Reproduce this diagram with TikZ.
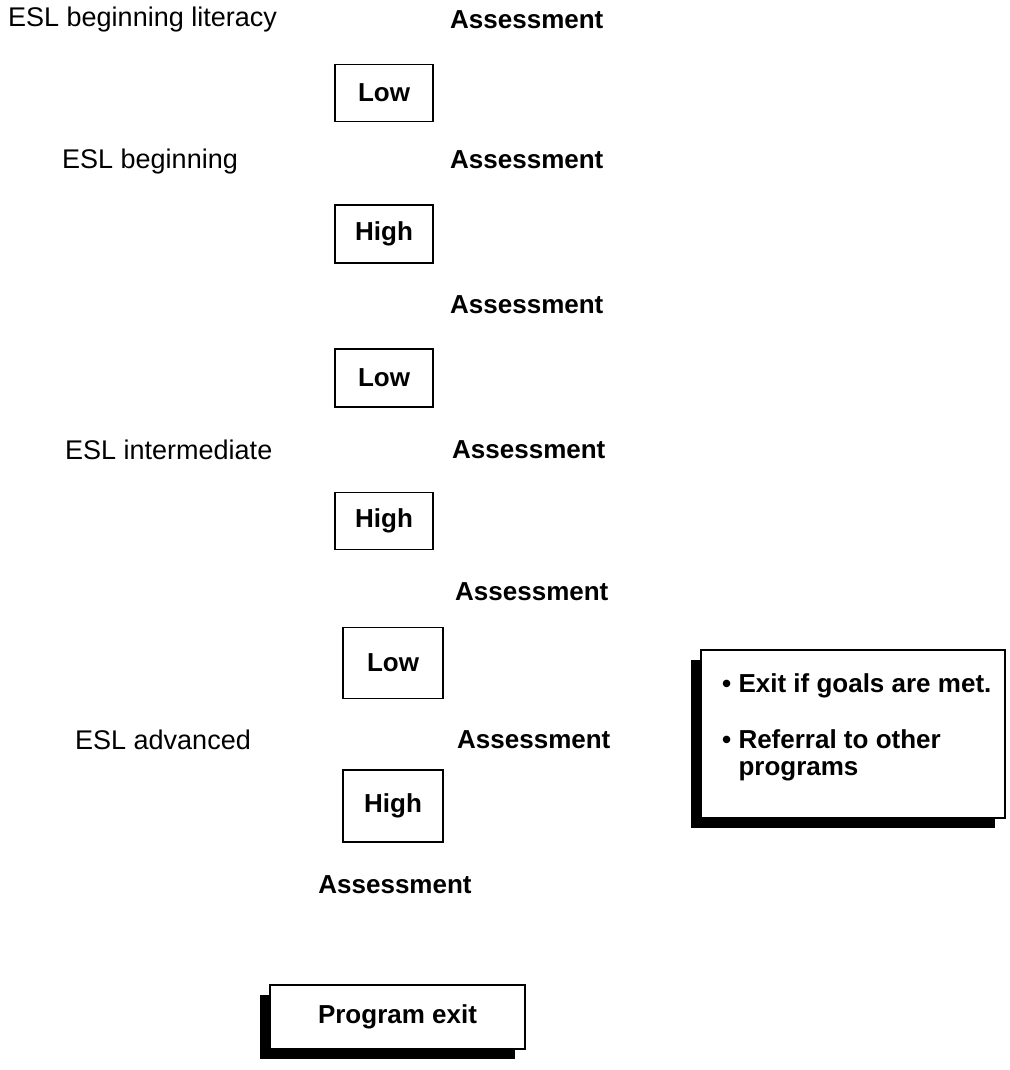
\documentclass[tikz,border=0pt]{standalone}
\usepackage{fontspec}
\setmainfont{Liberation Sans}
\usetikzlibrary{shadows}
\begin{document}
\begin{tikzpicture}[x=1pt,y=-1pt,
  txt/.style={font=\fontsize{27}{30}\selectfont, anchor=west, inner sep=0pt},
  asm/.style={font=\fontsize{26}{28}\selectfont\bfseries, anchor=west, inner sep=0pt},
  lvl/.style={draw, line width=1.8pt, inner sep=0pt, font=\fontsize{26}{28}\selectfont\bfseries},
  shbox/.style={draw, fill=white, line width=1.8pt, inner sep=0pt, font=\fontsize{26}{28}\selectfont\bfseries,
    drop shadow={shadow xshift=-10pt, shadow yshift=-10pt, fill=black, opacity=1}},
  goaltxt/.style={font=\fontsize{26}{27}\selectfont\bfseries, align=left, inner sep=0pt},
]
\useasboundingbox (0,0) rectangle (1009,1070);

% left titles
\node[txt] (t1) at (8,20) {ESL beginning literacy};
\node[txt] (t2) at (62,162) {ESL beginning};
\node[txt] (t3) at (65,450) {ESL intermediate};
\node[txt] (t4) at (75,740) {ESL advanced};

% assessments
\node[asm] (a1) at (450,20) {Assessment};
\node[asm] (a2) at (450,160) {Assessment};
\node[asm] (a3) at (450,305) {Assessment};
\node[asm] (a4) at (452,450) {Assessment};
\node[asm] (a5) at (455,592) {Assessment};
\node[asm] (a6) at (457,740) {Assessment};
\node[asm, anchor=center] (a7) at (395,885) {Assessment};

% level boxes
\node[lvl, minimum width=98pt, minimum height=57pt] (b1) at (384,93) {Low};
\node[lvl, minimum width=98pt, minimum height=58pt] (b2) at (384,234) {High};
\node[lvl, minimum width=98pt, minimum height=58pt] (b3) at (384,378) {Low};
\node[lvl, minimum width=98pt, minimum height=57pt] (b4) at (384,521) {High};
\node[lvl, minimum width=100pt, minimum height=71pt] (b5) at (393,663) {Low};
\node[lvl, minimum width=100pt, minimum height=72pt] (b6) at (393,806) {High};

% shadowed boxes
\node[shbox, minimum width=304pt, minimum height=168pt] (goals) at (853,734) {};
\node[goaltxt, anchor=west] (gt) at (722,727)
  {\textbullet\ Exit if goals are met.\\[29pt]\textbullet\ Referral to other\\\hphantom{\textbullet\ }programs};
\node[shbox, minimum width=255pt, minimum height=64pt] (exit) at (397.5,1017) {Program exit};
\end{tikzpicture}
\end{document}
